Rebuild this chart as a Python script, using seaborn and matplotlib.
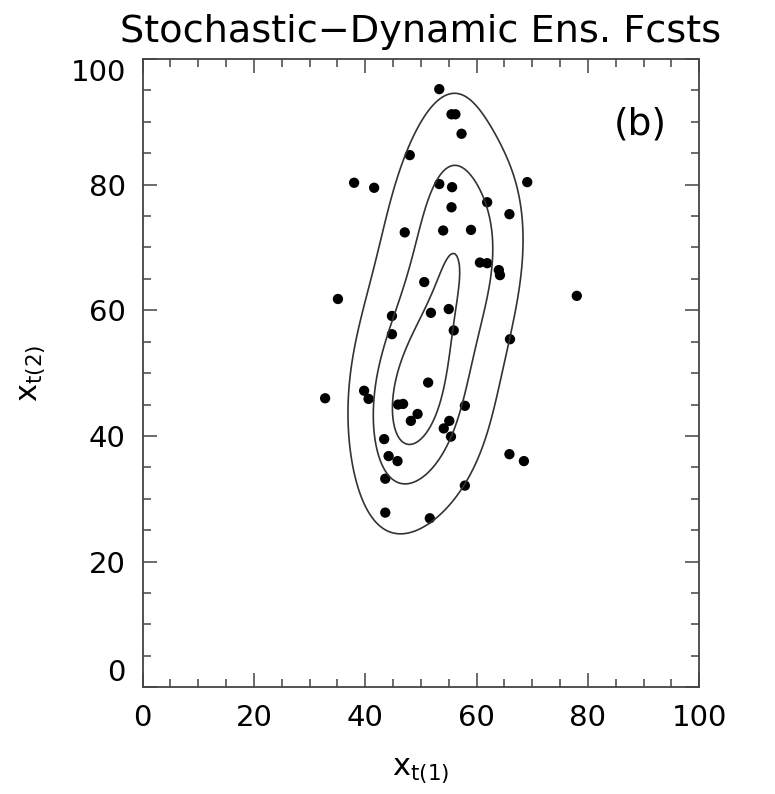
import numpy as np
import pandas as pd
import matplotlib
matplotlib.use("Agg")
import matplotlib.pyplot as plt
import seaborn as sns
from matplotlib.ticker import MultipleLocator

x1 = [53.3, 55.5, 56.2, 57.3, 48.0, 38.0, 41.6, 53.3, 55.6, 69.1,
      61.9, 65.9, 55.5, 47.1, 54.0, 59.0, 60.6, 61.9, 64.0, 64.2,
      50.6, 35.1, 78.0, 44.8, 51.8, 55.0, 44.8, 55.9, 66.0, 51.3,
      32.8, 39.8, 40.6, 45.9, 46.8, 49.4, 48.2, 57.9, 55.1, 54.1,
      55.4, 43.4, 44.2, 45.8, 65.9, 68.5, 43.6, 57.9, 43.6, 51.6]
x2 = [95.2, 91.2, 91.2, 88.1, 84.7, 80.3, 79.5, 80.1, 79.6, 80.4,
      77.2, 75.3, 76.4, 72.4, 72.7, 72.8, 67.6, 67.5, 66.4, 65.6,
      64.5, 61.8, 62.3, 59.1, 59.6, 60.2, 56.2, 56.8, 55.4, 48.5,
      46.0, 47.2, 45.9, 45.0, 45.1, 43.5, 42.4, 44.8, 42.4, 41.2,
      39.9, 39.5, 36.8, 36.0, 37.1, 36.0, 33.2, 32.1, 27.8, 26.9]
contour_levels = [0.4, 0.68, 0.9]
ticks = [0, 20, 40, 60, 80, 100]
title = "Stochastic\u2212Dynamic Ens. Fcsts"

df = pd.DataFrame({"x1": x1, "x2": x2})

sns.set_style("ticks")
plt.rcParams["font.family"] = ["DejaVu Sans"]
plt.rcParams["text.color"] = "black"
plt.rcParams["axes.labelcolor"] = "black"
plt.rcParams["xtick.color"] = "black"
plt.rcParams["ytick.color"] = "black"

fig = plt.figure(figsize=(7.75, 7.94), dpi=100)
ax = fig.add_axes([0.1839, 0.1344, 0.9023 - 0.1839, 0.9257 - 0.1344])

sns.kdeplot(data=df, x="x1", y="x2", levels=contour_levels, bw_adjust=1.35,
            color="#333333", linewidths=1.2, ax=ax)
sns.scatterplot(data=df, x="x1", y="x2", color="black", s=55,
                edgecolor="none", ax=ax)

ax.set_xlim(0, 100)
ax.set_ylim(0, 100)
ax.set_xticks(ticks)
ax.set_yticks(ticks)
ax.xaxis.set_minor_locator(MultipleLocator(5))
ax.yaxis.set_minor_locator(MultipleLocator(5))
ax.tick_params(which="both", direction="in", top=True, right=True,
               color="#444444", width=1.1)
ax.tick_params(which="major", length=10, labelsize=21, pad=12)
ax.tick_params(which="minor", length=6)
for sp in ax.spines.values():
    sp.set_linewidth(1.3)
    sp.set_color("#444444")

ylabs = ax.get_yticklabels()
ylabs[0].set_va("bottom")
ylabs[-1].set_va("top")

ax.set_xlabel(r"$\mathregular{x_{t(1)}}$", fontsize=22, labelpad=18)
ax.set_ylabel(r"$\mathregular{x_{t(2)}}$", fontsize=22, labelpad=16)
ax.set_title(title, fontsize=27.5, pad=12)
ax.text(89.4, 89.5, "(b)", fontsize=27, ha="center", va="center")

fig.savefig("out.png", dpi=100)
